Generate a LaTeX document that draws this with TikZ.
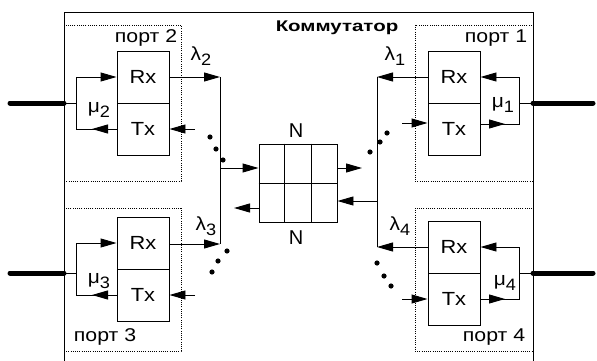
\documentclass[tikz,border=0pt]{standalone}
\usepackage{fontspec}
\setmainfont{Liberation Sans}
\usetikzlibrary{arrows.meta,calc}
\newcommand\hx[1]{\scalebox{1.15}[1]{#1}}
\newcommand\gsub[2]{\scalebox{1.1}[1]{#1\raisebox{-4.5pt}{\fontsize{16.5}{16.5}\selectfont #2}}}
\begin{document}
\begin{tikzpicture}[x=1pt,y=-1pt,
  line width=0.95pt,
  box/.style={draw, rectangle, minimum width=52pt, minimum height=52pt, inner sep=0pt, font=\fontsize{19}{19}\selectfont},
  arr/.style={-{Triangle[length=16pt,width=9pt]}},
  portbox/.style={draw, dash pattern=on 1pt off 1.2pt, line width=0.8pt},
  cable/.style={line width=5pt, line cap=round},
  lbl/.style={font=\fontsize{18.5}{18.5}\selectfont, inner sep=0pt},
  glbl/.style={font=\fontsize{19}{19}\selectfont, inner sep=0pt},
]
\useasboundingbox (0,0) rectangle (597,361);

% port boxes (dotted)
\draw[portbox] (64,25) rectangle (181,181);
\draw[portbox] (64,208) rectangle (181,351);
\draw[portbox] (415,25) rectangle (533,181);
\draw[portbox] (415,208) rectangle (533,351);

% outer switch box
\draw (64,361) -- (64,12) -- (533,12) -- (533,361);
\node[font=\bfseries\fontsize{15.5}{15.5}\selectfont, inner sep=0pt] (title) at (337,28) {\scalebox{1.32}[1]{Коммутатор}};

% Rx/Tx blocks
\node[box] (rx2) at (143,77) {\hx{Rx}};
\node[box] (tx2) at (143,129) {\hx{Tx}};
\node[box] (rx1) at (454,77) {\hx{Rx}};
\node[box] (tx1) at (454,129) {\hx{Tx}};
\node[box] (rx3) at (143,243) {\hx{Rx}};
\node[box] (tx3) at (143,295) {\hx{Tx}};
\node[box] (rx4) at (454,247) {\hx{Rx}};
\node[box] (tx4) at (454,299) {\hx{Tx}};

% port labels
\node[lbl] (p2) at (146,38) {\hx{порт 2}};
\node[lbl] (p1) at (496,38) {\hx{порт 1}};
\node[lbl] (p3) at (105,337) {\hx{порт 3}};
\node[lbl] (p4) at (494,337) {\hx{порт 4}};

% cables
\coordinate (c2o) at (10,103); \coordinate (c2i) at (64,103);
\coordinate (c3o) at (10,273); \coordinate (c3i) at (64,273);
\coordinate (c1o) at (593,103); \coordinate (c1i) at (533,103);
\coordinate (c4o) at (593,273); \coordinate (c4i) at (533,273);
\draw[cable] (c2o) -- (c2i);
\draw[cable] (c3o) -- (c3i);
\draw[cable] (c1o) -- (c1i);
\draw[cable] (c4o) -- (c4i);

% port-internal loops
\coordinate (j2) at (76,103); \coordinate (a2) at (92,129);
\draw (c2i) -- (j2);
\draw[arr] (j2) |- (rx2.west);
\draw (j2) |- (tx2.west);
\draw[arr] (tx2.west) -- (a2);

\coordinate (j3) at (76,273); \coordinate (a3) at (92,295);
\draw (c3i) -- (j3);
\draw[arr] (j3) |- (rx3.west);
\draw (j3) |- (tx3.west);
\draw[arr] (tx3.west) -- (a3);

\coordinate (j1) at (519,103); \coordinate (a1) at (505,124);
\coordinate (t1) at (tx1.east |- a1);
\draw (c1i) -- (j1);
\draw[arr] (j1) |- (rx1.east);
\draw (j1) |- (t1);
\draw[arr] (t1) -- (a1);

\coordinate (j4) at (519,273); \coordinate (a4) at (505,299);
\draw (c4i) -- (j4);
\draw[arr] (j4) |- (rx4.east);
\draw (j4) |- (tx4.east);
\draw[arr] (tx4.east) -- (a4);

\node[glbl] (mu2) at (99,110) {\gsub{μ}{2}};
\node[glbl] (mu3) at (99,281) {\gsub{μ}{3}};
\node[glbl] (mu1) at (503,105) {\gsub{μ}{1}};
\node[glbl] (mu4) at (505,283) {\gsub{μ}{4}};

% buses
\coordinate (bL1) at (220,77); \coordinate (bL2) at (220,244);
\coordinate (bR1) at (377,77); \coordinate (bR2) at (377,247);
\draw[arr] (rx2.east) -- (bL1);
\draw[arr] (rx3.east |- bL2) -- (bL2);
\draw (bL1) -- (bL2);
\draw[arr] (rx1.west) -- (bR1);
\draw[arr] (rx4.west) -- (bR2);
\draw (bR1) -- (bR2);

\node[glbl] (l2) at (201,56) {\gsub{λ}{2}};
\node[glbl] (l1) at (395,56) {\gsub{λ}{1}};
\node[glbl] (l3) at (206,226) {\gsub{λ}{3}};
\node[glbl] (l4) at (400,226) {\gsub{λ}{4}};

% Tx inputs
\coordinate (i2) at (195,129); \draw[arr] (i2) -- (tx2.east);
\coordinate (i3) at (195,295); \draw[arr] (i3) -- (tx3.east);
\coordinate (i1) at (402,123); \draw[arr] (i1) -- (tx1.west |- i1);
\coordinate (i4) at (402,299); \draw[arr] (i4) -- (tx4.west);

% buffer N
\node[draw, minimum width=78pt, minimum height=78pt, inner sep=0pt] (buf) at (298,183) {};
\draw (buf.west) -- (buf.east);
\draw ($(buf.north west)!1/3!(buf.north east)$) -- ($(buf.south west)!1/3!(buf.south east)$);
\draw ($(buf.north west)!2/3!(buf.north east)$) -- ($(buf.south west)!2/3!(buf.south east)$);
\node[lbl, font=\fontsize{20}{20}\selectfont] (n1) at (296,131) {N};
\node[lbl, font=\fontsize{20}{20}\selectfont] (n2) at (296,238) {N};

\coordinate (bLm) at (220,168); \coordinate (o1) at (362,168);
\coordinate (bRm) at (377,201); \coordinate (o2) at (234,208);
\draw[arr] (bLm) -- (bLm -| buf.west);
\draw[arr] (bLm -| buf.east) -- (o1);
\draw[arr] (bRm) -- (bRm -| buf.east);
\draw[arr] (o2 -| buf.west) -- (o2);

% dots
\foreach \p in {(210,137),(216,149),(223,160),(227,251),(218,261),(212,272),(370,152),(380,142),(387,133),(377,263),(384,276),(391,286)}
  \fill \p circle (2.6pt);
\end{tikzpicture}
\end{document}
